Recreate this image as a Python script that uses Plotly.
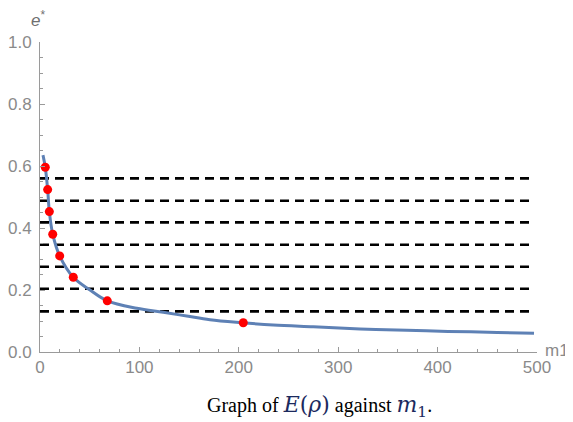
import plotly.graph_objects as go

# Curve (m1, e*)
curve_m1 = [3.0, 5.3, 7.7, 9.4, 12.8, 19.8, 33.5, 50.3, 67.7, 97.3, 124.0, 147.6,
            171.0, 202.9, 234.7, 275.0, 322.0, 369.0, 410.5, 460.0, 497.0]
curve_e = [0.635, 0.596, 0.524, 0.453, 0.380, 0.310, 0.241, 0.200, 0.165, 0.141,
           0.128, 0.116, 0.104, 0.0945, 0.087, 0.0812, 0.0745, 0.0700, 0.0665,
           0.0632, 0.0605]

# Red points
point_m1 = [5.3, 7.7, 9.4, 12.8, 19.8, 33.5, 67.7, 204.5]
point_e = [0.596, 0.524, 0.453, 0.380, 0.310, 0.241, 0.165, 0.0945]

# Dashed horizontal levels
level_e = [0.560, 0.488, 0.418, 0.346, 0.275, 0.204, 0.131]
level_m1_range = [0, 497]

x_tick_vals = [0, 100, 200, 300, 400, 500]
x_tick_text = ["0", "100", "200", "300", "400", "500"]
y_tick_vals = [0, 0.2, 0.4, 0.6, 0.8, 1.0]
y_tick_text = ["0.0", "0.2", "0.4", "0.6", "0.8", "1.0"]

fig = go.Figure()

for lv in level_e:
    fig.add_trace(go.Scatter(
        x=level_m1_range, y=[lv, lv], mode="lines",
        line=dict(color="black", width=2.6, dash="9px,6px"),
        hoverinfo="skip", showlegend=False))

fig.add_trace(go.Scatter(
    x=curve_m1, y=curve_e, mode="lines",
    line=dict(color="#5E81B5", width=3, shape="spline", smoothing=1.0),
    showlegend=False))

fig.add_trace(go.Scatter(
    x=point_m1, y=point_e, mode="markers",
    marker=dict(color="#FF0000", size=9),
    cliponaxis=False, showlegend=False))

label_color = "#8a8a8a"
tickfont = dict(family="Liberation Sans, Arial, sans-serif", size=17, color=label_color)

# The page body adds an 8px offset, so the figure is sized 565x414
fig.update_layout(
    width=565, height=414,
    margin=dict(l=32, r=36, t=34, b=70, autoexpand=False),
    paper_bgcolor="white", plot_bgcolor="white",
    xaxis=dict(
        range=[0, 500], showgrid=False, zeroline=False, automargin=False,
        showline=True, linecolor="#9a9a9a", linewidth=1,
        ticks="inside", ticklen=5, tickcolor="#9a9a9a",
        tickvals=x_tick_vals, ticktext=x_tick_text,
        tickfont=tickfont,
        minor=dict(ticks="inside", ticklen=3, dtick=20, tickcolor="#9a9a9a", showgrid=False),
    ),
    yaxis=dict(
        range=[0, 1.0], showgrid=False, zeroline=False, automargin=False,
        showline=True, linecolor="#9a9a9a", linewidth=1,
        ticks="inside", ticklen=5, tickcolor="#9a9a9a",
        tickvals=y_tick_vals, ticktext=y_tick_text,
        tickfont=tickfont, ticklabelstandoff=4,
        minor=dict(ticks="inside", ticklen=3, dtick=0.05, tickcolor="#9a9a9a", showgrid=False),
    ),
    annotations=[
        dict(xref="paper", yref="paper", x=-0.022, y=1.115,
             text="<i>e</i><sup>*</sup>", showarrow=False,
             font=dict(family="Liberation Sans, Arial, sans-serif", size=17, color="#6f6f6f")),
        dict(xref="paper", yref="paper", x=1.012, y=0.005, xanchor="left", yanchor="middle",
             text="m1", showarrow=False,
             font=dict(family="Liberation Sans, Arial, sans-serif", size=17, color=label_color)),
        dict(xref="paper", yref="paper", x=0.563, y=-0.177, xanchor="center", yanchor="middle",
             text="Graph of <span style='color:#1c2a5e;font-family:DejaVu Serif;font-size:22px'><i>E</i>(<i>ρ</i>)</span>"
                  " against <span style='color:#1c2a5e;font-family:DejaVu Serif;font-size:22px'><i>m</i><sub>1</sub></span>.",
             showarrow=False,
             font=dict(family="Liberation Serif, Times New Roman, serif", size=20, color="black")),
    ],
)

fig.write_html("out.html")
